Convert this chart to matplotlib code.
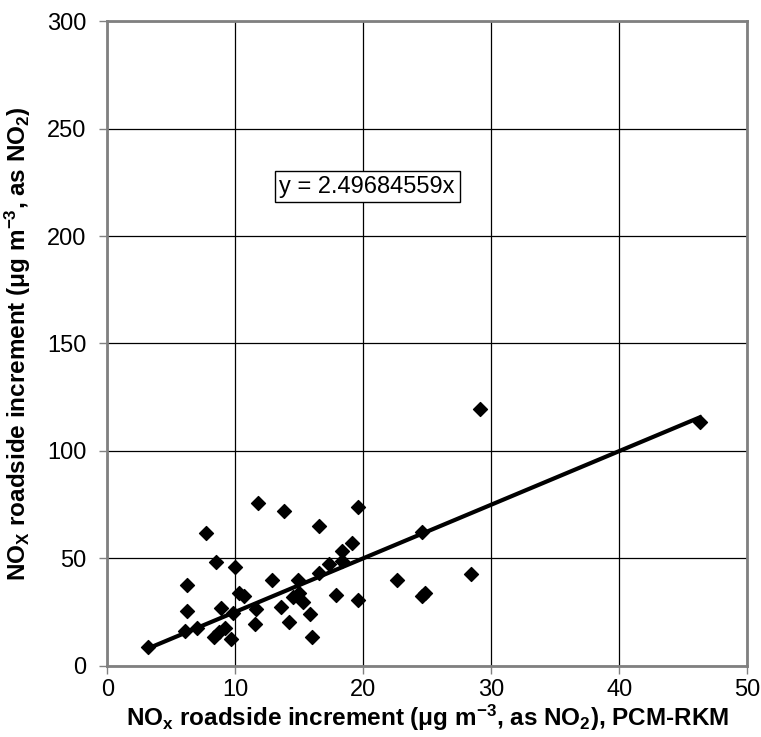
import numpy as np
import matplotlib
matplotlib.use("Agg")
import matplotlib.pyplot as plt

plt.rcParams['font.family'] = ['Liberation Sans', 'DejaVu Sans']
plt.rcParams['mathtext.default'] = 'regular'

# PCM-RKM roadside increment (x) vs measured roadside increment (y)
pcm_x = [3.2, 6.2, 6.2, 6.1, 7.0, 7.7, 8.5, 8.9, 8.3, 8.7, 9.2, 9.7, 9.95, 9.8,
         10.3, 10.7, 11.8, 11.6, 11.5, 12.9, 13.8, 13.6, 14.2, 14.9, 14.5, 15.0,
         15.3, 15.8, 16.0, 16.5, 16.5, 17.3, 17.9, 18.3, 18.3, 19.1, 19.6, 19.6,
         22.6, 24.6, 24.6, 24.8, 28.4, 29.15, 46.3]
meas_y = [8.4, 37.5, 25.3, 16.3, 17.5, 61.9, 48.3, 26.7, 13.4, 15.8, 17.3, 12.5, 45.7, 24.3,
          33.8, 32.5, 75.6, 26.5, 19.5, 39.8, 72.0, 27.1, 20.3, 39.8, 32.0, 33.8,
          29.4, 24.2, 13.1, 65.2, 43.0, 47.2, 32.9, 53.4, 48.8, 57.0, 73.7, 30.3,
          39.8, 62.4, 32.5, 33.8, 42.4, 119.4, 113.5]
slope = 2.49684559

fig = plt.figure(figsize=(7.61, 7.37), dpi=100)
ax = fig.add_axes([0.141, 0.097, 0.841, 0.874])

ax.grid(True, color='black', linewidth=0.9)
ax.set_axisbelow(True)

ax.scatter(pcm_x, meas_y, marker='D', s=50, color='black', zorder=3)
fx = np.array([min(pcm_x), max(pcm_x)])
ax.plot(fx, slope * fx, color='black', linewidth=3, zorder=4)

ax.set_xlim(0, 50)
ax.set_ylim(0, 300)
ax.set_xticks(np.arange(0, 51, 10))
ax.set_yticks(np.arange(0, 301, 50))
ax.tick_params(direction='out', length=6, width=1, colors='black', labelsize=17)
ax.tick_params(axis='x', color='#808080', pad=4)
ax.tick_params(axis='y', color='#808080', pad=9)
for s in ax.spines.values():
    s.set_color('#808080')
    s.set_linewidth(2)

ax.set_xlabel('NO$_x$ roadside increment (μg m$^{-3}$, as NO$_2$), PCM-RKM',
              fontsize=17.5, fontweight='bold', labelpad=1)
ax.set_ylabel('NO$_X$ roadside increment (μg m$^{-3}$, as NO$_2$)',
              fontsize=17.5, fontweight='bold', labelpad=10)

ax.text(20.3, 223, 'y = %.8fx' % slope, fontsize=17, ha='center', va='center',
        bbox=dict(boxstyle='square,pad=0.2', facecolor='white', edgecolor='black', linewidth=1),
        zorder=5)

fig.savefig('out.png', dpi=100)
